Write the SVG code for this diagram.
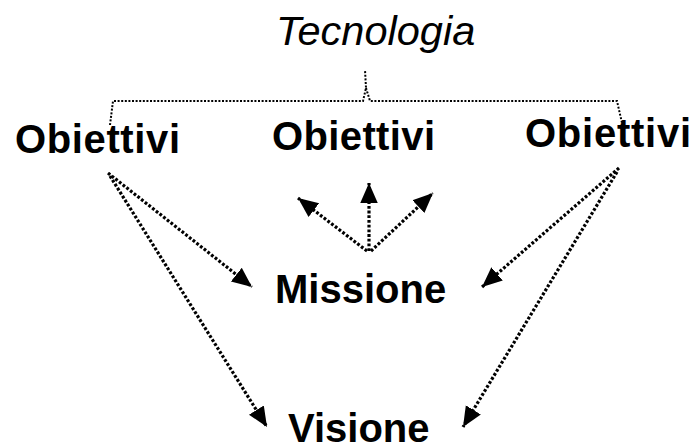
<svg xmlns="http://www.w3.org/2000/svg" width="697" height="446" viewBox="0 0 697 446">
<style>
.lbl{font-family:"Liberation Sans",Arial,sans-serif;font-weight:bold;font-size:40px;fill:#000}
.it{font-family:"Liberation Sans",Arial,sans-serif;font-style:italic;font-size:41.5px;fill:#000}
.br{fill:none;stroke:#000;stroke-width:2;stroke-dasharray:2 1.6}
.ar{fill:none;stroke:#000;stroke-width:3.2;stroke-dasharray:2.8 1.9}
</style>
<defs>
<marker id="ah" markerUnits="userSpaceOnUse" markerWidth="20" markerHeight="20" viewBox="0 0 16 14" refX="16" refY="7" orient="auto">
<path d="M0,0 L16,7 L0,14 Z" fill="#000"/>
</marker>
</defs>
<rect width="697" height="446" fill="#fff"/>
<g id="tecnologia"><text class="it" x="276" y="45">Tecnologia</text></g>
<g id="obiettivi-left"><text class="lbl" x="15" y="153" textLength="165">Obiettivi</text></g>
<g id="obiettivi-mid"><text class="lbl" x="272" y="150" textLength="163">Obiettivi</text></g>
<g id="obiettivi-right"><text class="lbl" x="525" y="147" textLength="166">Obiettivi</text></g>
<g id="missione"><text class="lbl" x="275" y="303">Missione</text></g>
<g id="visione"><text class="lbl" x="288" y="442">Visione</text></g>
<g id="connectors">
<path class="br" d="M110,125 L113,101 L363,101 L366,88 L365,70 M366,88 L370,101 L617,101 L622,123"/>
<line class="ar" x1="108" y1="173" x2="252" y2="287" marker-end="url(#ah)"/>
<line class="ar" x1="110" y1="176" x2="267" y2="427" marker-end="url(#ah)"/>
<line class="ar" x1="367" y1="251" x2="298" y2="198" marker-end="url(#ah)"/>
<line class="ar" x1="369" y1="251" x2="369" y2="183" marker-end="url(#ah)"/>
<line class="ar" x1="371" y1="251" x2="433" y2="193" marker-end="url(#ah)"/>
<line class="ar" x1="619" y1="168" x2="482" y2="287" marker-end="url(#ah)"/>
<line class="ar" x1="617" y1="172" x2="463" y2="427" marker-end="url(#ah)"/>
</g>
</svg>
